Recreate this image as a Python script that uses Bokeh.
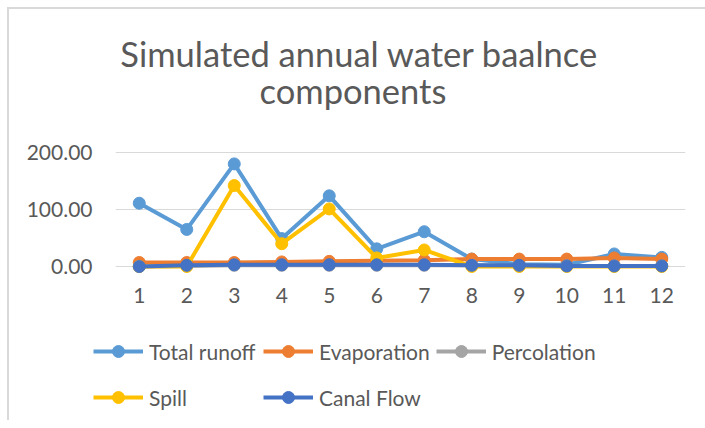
from bokeh.plotting import figure
from bokeh.layouts import column
from bokeh.models import (Label, Legend, LegendItem, FixedTicker, NumeralTickFormatter, Range1d)
from bokeh.embed import file_html
from bokeh.resources import INLINE

months = [1, 2, 3, 4, 5, 6, 7, 8, 9, 10, 11, 12]
total_runoff = [111, 65, 180, 49, 124, 31, 61, 13, 4, 3, 22, 16]
evaporation = [7, 7, 7, 8, 9, 10, 11, 13, 13, 13, 15, 13]
percolation = [0, 1, 2, 2, 2, 2, 2, 2, 1, 1, 1, 1]
spill = [0, 0, 142, 40, 101, 15, 29, 0, 0, 0, 0, 0]
canal_flow = [0, 2, 3, 3, 3, 3, 3, 2, 2, 1, 1, 1]
y_ticks = [0, 100, 200]
title_lines = ["Simulated annual water baalnce", "components"]

series = [
    ("Total runoff", total_runoff, "#5B9BD5"),
    ("Evaporation", evaporation, "#ED7D31"),
    ("Percolation", percolation, "#A5A5A5"),
    ("Spill", spill, "#FFC000"),
    ("Canal Flow", canal_flow, "#4472C4"),
]

FONT = "Lato"
TXT = "#595959"
W = 696


def blank(h, xr, yr):
    f = figure(width=W, height=h, output_backend="svg", toolbar_location=None,
               x_range=xr, y_range=yr, min_border=0, title=None,
               x_axis_location=None, y_axis_location=None, frame_align=False)
    f.grid.visible = False
    f.outline_line_color = None
    f.border_fill_color = "white"
    f.background_fill_color = "white"
    return f


# --- title ---
tf = blank(116, Range1d(0, W), Range1d(116, 0))
tf.add_layout(Label(x=350, y=44, text=title_lines[0], text_align="center",
                    text_baseline="alphabetic", text_font=FONT, text_font_size="34.5px",
                    text_color=TXT))
tf.add_layout(Label(x=343.5, y=81, text=title_lines[1], text_align="center",
                    text_baseline="alphabetic", text_font=FONT, text_font_size="34.5px",
                    text_color=TXT))

# --- main chart ---
p = figure(width=W, height=195, output_backend="svg", toolbar_location=None,
           x_range=Range1d(0.5, 12.5), y_range=Range1d(-12.28, 205.26),
           min_border_left=106, min_border_right=20, min_border_top=24,
           min_border_bottom=47, title=None, frame_align=False)
p.outline_line_color = None
p.background_fill_color = "white"
p.border_fill_color = "white"

for name, vals, col in series:
    p.line(months, vals, line_color=col, line_width=4)
    p.scatter(months, vals, marker="circle", size=12, fill_color=col, line_color=col)

p.xgrid.visible = False
p.ygrid.grid_line_color = "#D9D9D9"
p.ygrid.grid_line_width = 1
p.yaxis.ticker = FixedTicker(ticks=y_ticks)
p.xaxis.ticker = FixedTicker(ticks=months)
p.yaxis.formatter = NumeralTickFormatter(format="0.00")
for ax in (p.xaxis[0], p.yaxis[0]):
    ax.axis_line_color = None
    ax.major_tick_line_color = None
    ax.minor_tick_line_color = None
    ax.major_label_text_font = FONT
    ax.major_label_text_font_size = "21px"
    ax.major_label_text_color = TXT
p.yaxis.major_label_standoff = 17
p.xaxis.major_label_standoff = 8

# --- legend (its own series renderers sit outside this panel's view) ---
lf = blank(100, Range1d(100, 200), Range1d(1000, 2000))
items = []
for name, vals, col in series:
    l = lf.line(months, vals, line_color=col, line_width=4)
    s = lf.scatter(months, vals, marker="circle", size=12, fill_color=col, line_color=col)
    items.append(LegendItem(label=name, renderers=[l, s]))
legend = Legend(items=items, location=(84, 3), orientation="horizontal", ncols=3,
                padding=0, margin=0, spacing=6, label_standoff=6,
                glyph_width=50, glyph_height=30, label_height=40, label_width=108,
                label_text_font=FONT, label_text_font_size="21px", label_text_color=TXT,
                border_line_color=None, background_fill_alpha=0)
lf.add_layout(legend, "center")

layout = column(tf, p, lf, spacing=0,
                styles={"margin-left": "7px", "margin-top": "7px",
                        "border-top": "2px solid #D9D9D9",
                        "border-left": "2px solid #D9D9D9"})

open("out.html", "w").write(file_html(layout, INLINE))
